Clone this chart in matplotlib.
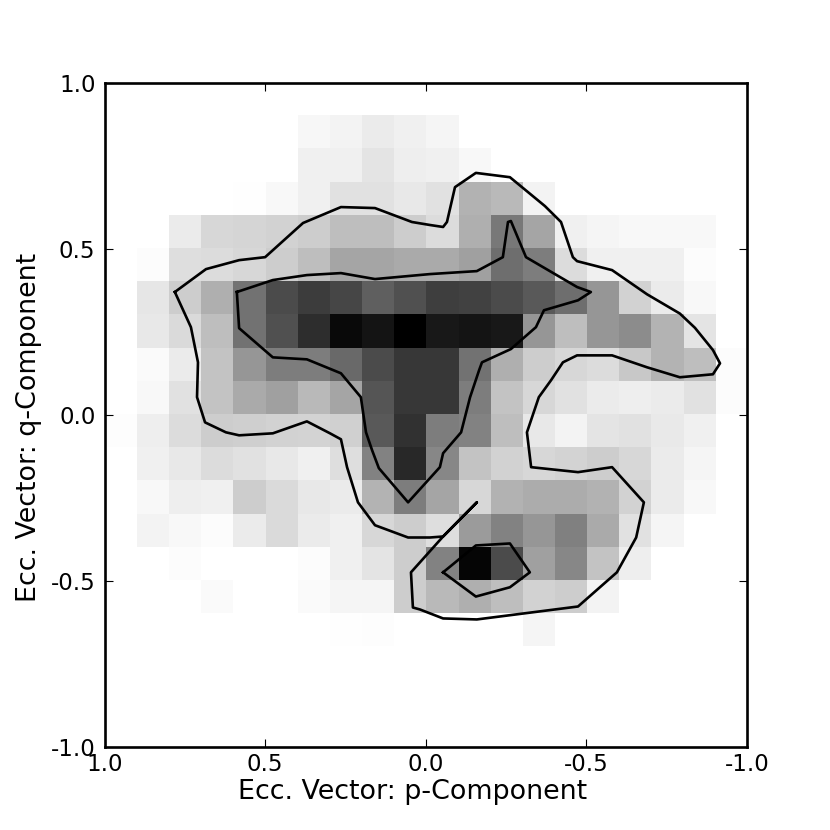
import matplotlib
matplotlib.use('Agg')
import matplotlib.pyplot as plt
import numpy as np

# counts per cell, top row first, x runs 1.0 -> -1.0
hist = [
    [0,0,0,0,0,0,0,0,0,0,0,0,0,0,0,0,0,0,0,0],
    [0,0,0,0,0,0,8,12,20,15,10,0,0,0,0,0,0,0,0,0],
    [0,0,0,0,0,0,15,15,27,17,15,7,0,0,0,0,0,0,0,0],
    [0,0,0,0,1,7,15,30,30,23,30,77,70,12,0,0,0,0,0,0],
    [0,0,20,40,42,45,50,65,65,50,35,80,135,90,15,10,7,7,7,0],
    [0,3,33,35,40,50,65,90,90,85,85,95,145,130,35,15,15,15,3,0],
    [0,25,50,80,140,180,195,185,160,175,193,190,180,165,145,105,45,20,7,0],
    [0,23,37,65,140,175,210,245,235,255,230,235,230,105,65,105,115,75,27,0],
    [0,5,20,60,105,130,130,150,180,200,200,140,80,50,40,35,55,75,65,3],
    [0,7,30,60,85,95,70,90,170,200,200,130,60,40,30,20,17,20,30,3],
    [2,17,35,50,48,45,43,47,165,205,130,125,65,23,12,27,30,22,15,0],
    [0,15,23,35,30,23,15,33,125,215,120,60,45,40,43,50,40,20,10,0],
    [0,7,17,15,50,37,23,20,75,130,90,40,77,83,83,77,45,20,7,0],
    [0,12,7,3,20,37,20,15,40,50,33,100,125,105,127,85,30,10,0,0],
    [0,0,3,0,0,0,3,15,27,50,125,250,180,95,120,60,17,0,0,0],
    [0,0,0,5,0,0,5,10,10,50,70,80,65,45,50,12,0,0,0,0],
    [0,0,0,0,0,0,0,1,2,0,0,0,0,10,0,0,0,0,0,0],
    [0,0,0,0,0,0,0,0,0,0,0,0,0,0,0,0,0,0,0,0],
    [0,0,0,0,0,0,0,0,0,0,0,0,0,0,0,0,0,0,0,0],
    [0,0,0,0,0,0,0,0,0,0,0,0,0,0,0,0,0,0,0,0],
]

outer_p = [.781,.684,.581,.500,.382,.264,.158,.043,-.013,-.054,-.066,-.091,-.156,-.262,-.371,-.421,-.458,-.471,
           -.580,-.689,-.791,-.838,-.894,-.916,-.894,-.791,-.689,-.580,-.471,-.427,-.390,-.352,-.315,-.328,-.474,
           -.580,-.679,-.655,-.595,-.474,-.159,-.054,.018,.040,.046,-.054,-.159,-.054,-.013,.055,.158,.211,.245,
           .264,.298,.370,.476,.581,.622,.687,.712,.709,.731,.781]
outer_q = [.370,.439,.466,.475,.578,.626,.623,.581,.572,.566,.581,.686,.729,.716,.629,.581,.475,.463,
           .436,.363,.305,.262,.195,.155,.122,.113,.143,.179,.179,.158,.104,.053,-.053,-.158,-.173,
           -.158,-.264,-.370,-.475,-.578,-.617,-.614,-.587,-.581,-.475,-.367,-.264,-.367,-.370,-.370,-.333,-.264,-.158,
           -.074,-.056,-.020,-.056,-.062,-.053,-.023,.053,.158,.264,.370]

inner_p = [.588,.476,.370,.264,.158,-.013,-.159,-.240,-.256,-.265,-.312,-.471,-.514,-.474,-.368,-.343,-.265,-.175,
           -.166,-.138,-.110,-.054,-.044,.055,.146,.167,.186,.202,.264,.370,.476,.581,.588]
inner_q = [.370,.406,.421,.427,.409,.424,.433,.475,.581,.584,.475,.385,.370,.345,.315,.264,.198,.158,
           .134,.053,-.053,-.116,-.158,-.264,-.161,-.107,-.053,.053,.125,.167,.173,.261,.370]

core_p = [-.054,-.156,-.262,-.324,-.262,-.156,-.054]
core_q = [-.475,-.394,-.388,-.475,-.520,-.548,-.475]

ticks = [-1.0, -0.5, 0.0, 0.5, 1.0]

plt.rcParams['axes.unicode_minus'] = False
plt.rcParams['font.family'] = 'DejaVu Sans'

fig = plt.figure(figsize=(8.3, 8.3), dpi=100)
ax = fig.add_axes([104.5/830, 1-746.5/830, 642.5/830, 663.5/830])

ax.imshow(np.array(hist), cmap='gray_r', vmin=0, vmax=255, extent=(1, -1, -1, 1),
          aspect='auto', interpolation='nearest')

ax.plot(outer_p, outer_q, 'k-', lw=1.9)
ax.plot(inner_p, inner_q, 'k-', lw=1.9)
ax.plot(core_p, core_q, 'k-', lw=1.9)

ax.set_xlim(1, -1)
ax.set_ylim(-1, 1)
ax.set_xticks(ticks)
ax.set_yticks(ticks)
ax.tick_params(direction='in', top=True, right=True, length=6, width=0.8, labelsize=16.5)
ax.tick_params(axis='x', pad=5)
ax.tick_params(axis='y', pad=6.5)
for s in ax.spines.values():
    s.set_linewidth(1.9)

ax.set_xlabel('Ecc. Vector: p-Component', fontsize=19.4, labelpad=2, x=0.48)
ax.set_ylabel('Ecc. Vector: q-Component', fontsize=19.4, labelpad=6.5, y=0.481)

fig.savefig('out.png', dpi=100)
